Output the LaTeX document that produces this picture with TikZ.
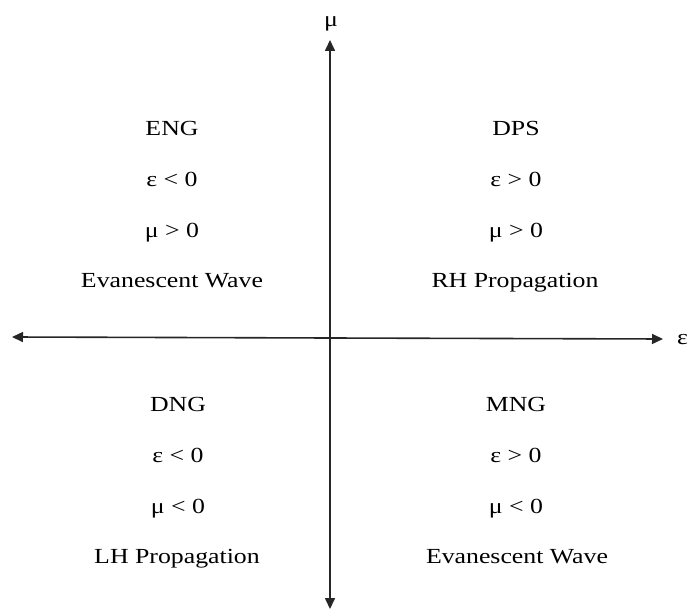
\documentclass[tikz,border=0pt]{standalone}
\usepackage{fontspec}
\usepackage{graphicx}
\setmainfont{Liberation Serif}
\usetikzlibrary{arrows.meta}
\newcommand{\stretchtxt}[1]{\scalebox{1.2}[1]{#1}}
\begin{document}
\begin{tikzpicture}[x=1pt,y=-1pt,
  lbl/.style={inner sep=0pt, anchor=base, font=\fontsize{21.5}{25}\selectfont},
  axis/.style={line width=1.6pt, draw=black!85, -{Triangle[length=11pt,width=10pt]}}]
\useasboundingbox (0,0) rectangle (688,612);
% axes
\coordinate (O) at (330,338);
\coordinate (top) at (330,40);
\coordinate (bot) at (330,609);
\coordinate (lft) at (12,337);
\coordinate (rgt) at (663,339);
\draw[axis] (O) -- (top);
\draw[axis] (O) -- (bot);
\draw[axis] (O) -- (lft);
\draw[axis] (O) -- (rgt);
\node[lbl] (mu) at (331,27) {\stretchtxt{μ}};
\node[lbl, anchor=base west] (eps) at (677,344) {\stretchtxt{ε}};
% quadrant II
\node[lbl] (q2a) at (172,136) {\stretchtxt{ENG}};
\node[lbl] (q2b) at (172,187) {\stretchtxt{ε < 0}};
\node[lbl] (q2c) at (172,238) {\stretchtxt{μ > 0}};
\node[lbl] (q2d) at (172,288) {\stretchtxt{Evanescent Wave}};
% quadrant I
\node[lbl] (q1a) at (516,136) {\stretchtxt{DPS}};
\node[lbl] (q1b) at (516,187) {\stretchtxt{ε > 0}};
\node[lbl] (q1c) at (516,238) {\stretchtxt{μ > 0}};
\node[lbl] (q1d) at (515,288) {\stretchtxt{RH Propagation}};
% quadrant III
\node[lbl] (q3a) at (178,411) {\stretchtxt{DNG}};
\node[lbl] (q3b) at (178,462) {\stretchtxt{ε < 0}};
\node[lbl] (q3c) at (178,513) {\stretchtxt{μ < 0}};
\node[lbl] (q3d) at (177,563) {\stretchtxt{LH Propagation}};
% quadrant IV
\node[lbl] (q4a) at (516,411) {\stretchtxt{MNG}};
\node[lbl] (q4b) at (516,462) {\stretchtxt{ε > 0}};
\node[lbl] (q4c) at (516,513) {\stretchtxt{μ < 0}};
\node[lbl] (q4d) at (517,563) {\stretchtxt{Evanescent Wave}};
\end{tikzpicture}
\end{document}
